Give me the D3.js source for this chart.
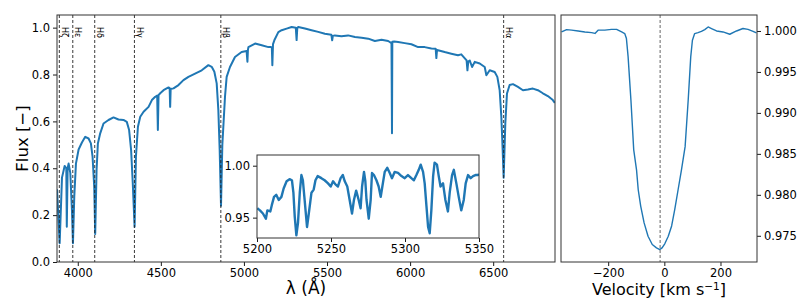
<!DOCTYPE html>
<html>
<head>
<meta charset="utf-8">
<script src="https://cdn.jsdelivr.net/npm/d3@7"></script>
<style>
  body { margin: 0; background: #fff; }
  svg text { font-family: "DejaVu Sans", sans-serif; fill: #000; }
  .axis text { font-size: 11.5px; }
  .axis line { stroke: #000; stroke-width: 0.9; }
  .axis path { display: none; }
  .frame { fill: none; stroke: #333; stroke-width: 1; }
  .spec { fill: none; stroke: #1f77b4; stroke-linejoin: round; }
</style>
</head>
<body>
<div id="chart"></div>
<script>
// Full spectrum, wavelength (Angstrom) and normalised flux
const specWave = [3875, 3891, 3905, 3921, 3931, 3934, 3939, 3945, 3955, 3965, 3971, 3979, 3989, 4005, 4025,
  4045, 4065, 4079, 4089, 4099, 4105, 4113, 4121, 4135, 4155, 4185, 4215, 4245, 4275, 4295,
  4309, 4321, 4331, 4342, 4350, 4362, 4376, 4396, 4426, 4446, 4466, 4478, 4482, 4486, 4496, 4516,
  4546, 4553, 4556, 4559, 4576, 4606, 4636, 4666, 4706, 4746, 4786, 4806, 4822, 4836, 4846,
  4854, 4862, 4870, 4886, 4896, 4916, 4946, 4986, 5016, 5021, 5024, 5027, 5067, 5107, 5147, 5163,
  5168, 5171, 5175, 5183, 5207, 5227, 5257, 5287, 5312, 5317, 5321, 5327, 5367, 5407, 5447, 5487,
  5526, 5531, 5535, 5547, 5587, 5627, 5668, 5708, 5748, 5788, 5828, 5868, 5888, 5891, 5893,
  5904, 5928, 5968, 6008, 6048, 6088, 6128, 6154, 6158, 6162, 6208, 6248, 6288, 6308, 6340,
  6345, 6350, 6359, 6373, 6389, 6419, 6449, 6459, 6479, 6509, 6525, 6539, 6549, 6557, 6563,
  6573, 6583, 6599, 6619, 6649, 6679, 6709, 6739, 6769, 6799, 6829, 6859, 6871]
const specFlux = [0.31, 0.08, 0.36, 0.41, 0.40, 0.15, 0.40, 0.42, 0.38, 0.22, 0.08, 0.28, 0.42, 0.48, 0.51,
  0.534, 0.527, 0.506, 0.45, 0.32, 0.12, 0.39, 0.506, 0.549, 0.591, 0.606, 0.617, 0.608, 0.606, 0.598,
  0.563, 0.478, 0.336, 0.15, 0.449, 0.577, 0.62, 0.641, 0.662, 0.691, 0.705, 0.71, 0.563, 0.712, 0.72, 0.733,
  0.745, 0.742, 0.662, 0.738, 0.741, 0.755, 0.776, 0.79, 0.804, 0.818, 0.84, 0.833, 0.812, 0.762, 0.648,
  0.478, 0.24, 0.5, 0.705, 0.79, 0.832, 0.875, 0.896, 0.9, 0.855, 0.905, 0.917, 0.932, 0.925, 0.917, 0.917,
  0.915, 0.84, 0.93, 0.946, 0.981, 0.989, 0.996, 1.003, 1.0, 0.947, 0.998, 1.003, 0.996, 0.989, 0.982, 0.974,
  0.97, 0.946, 0.965, 0.967, 0.963, 0.967, 0.96, 0.957, 0.953, 0.943, 0.948, 0.943, 0.934, 0.549, 0.94,
  0.941, 0.939, 0.934, 0.929, 0.917, 0.917, 0.911, 0.91, 0.87, 0.905, 0.896, 0.889, 0.882, 0.886, 0.86,
  0.818, 0.855, 0.86, 0.832, 0.854, 0.847, 0.832, 0.797, 0.818, 0.811, 0.79, 0.733, 0.62, 0.478, 0.36,
  0.591, 0.719, 0.755, 0.759, 0.747, 0.733, 0.736, 0.74, 0.733, 0.72, 0.708, 0.691, 0.679]

// Zoomed region 5200-5350 A
const insetWave = [5200.2, 5202, 5204, 5206, 5207, 5209, 5210, 5211.5, 5213, 5214.7, 5216.5, 5218, 5220,
  5222, 5223.6, 5224.6, 5225.5, 5226.6, 5227.7, 5228.9, 5230, 5231, 5232, 5233.8, 5235, 5236.8,
  5238.3, 5239.5, 5241, 5243.5, 5245.7, 5248, 5249.8, 5251.4, 5253, 5254.7, 5256.5, 5258, 5259.3,
  5261, 5262.6, 5264.2, 5265.5, 5267, 5268.7, 5270, 5271, 5272.3, 5273.2, 5274, 5275.5, 5276.8,
  5277.7, 5279, 5280.7, 5282.2, 5283.6, 5284.7, 5286.3, 5288, 5289.7, 5291.2, 5293, 5295.3, 5297.6,
  5299.8, 5302, 5304.3, 5306, 5307.7, 5309.3, 5310.6, 5312.2, 5313.3, 5314.5, 5315.6, 5316.7, 5317.8,
  5319, 5320, 5321.6, 5322.8, 5324, 5325.7, 5327.3, 5329, 5330.2, 5331.8, 5333, 5334.7, 5336.3,
  5338, 5339.7, 5341, 5342.6, 5344.4, 5346, 5347.6, 5349.4, 5350]
const insetFlux = [0.959, 0.957, 0.954, 0.949, 0.957, 0.956, 0.962, 0.970, 0.972, 0.967, 0.970, 0.978, 0.985,
  0.987, 0.986, 0.974, 0.951, 0.933, 0.945, 0.974, 0.991, 0.986, 0.970, 0.941, 0.954, 0.974,
  0.977, 0.986, 0.990, 0.988, 0.986, 0.983, 0.980, 0.985, 0.982, 0.980, 0.988, 0.991, 0.985,
  0.980, 0.967, 0.954, 0.967, 0.976, 0.967, 0.959, 0.980, 0.994, 0.985, 0.967, 0.949, 0.967,
  0.993, 0.991, 0.986, 0.980, 0.970, 0.980, 0.994, 0.998, 0.993, 0.988, 0.994, 0.993, 0.990,
  0.988, 0.991, 0.988, 0.986, 0.991, 0.996, 1.001, 0.994, 0.983, 0.961, 0.941, 0.935, 0.957,
  0.990, 1.003, 1.001, 0.990, 0.980, 0.983, 0.967, 0.956, 0.974, 0.991, 0.996, 0.983, 0.970,
  0.957, 0.967, 0.983, 0.991, 0.988, 0.990, 0.991, 0.991, 0.992]

// Cross-correlation profile
const velocity = [-366, -348, -330, -307, -283, -259, -247, -236, -212, -188, -170, -152, -141, -135,
  -129, -119, -109, -99, -93, -84, -72, -58, -43, -28, -16, -8, 2, 14, 26, 37, 49, 61, 74,
  85, 94, 100, 108, 120, 132, 144, 156, 168, 186, 209, 233, 257, 280, 298, 316, 328]
const ccf = [0.99988, 1.00017, 1.0001, 1.0000, 0.99988, 0.9998, 0.9997, 1.0001, 1.0001, 1.0002, 1.0002,
  0.99988, 0.99968, 0.99907, 0.99684, 0.99157, 0.98549, 0.98305, 0.98062, 0.97859, 0.97657,
  0.97494, 0.97393, 0.97353, 0.97332, 0.97353, 0.97405, 0.97494, 0.9762, 0.97819, 0.98062,
  0.98305, 0.98588, 0.99157, 0.99684, 0.99887, 0.99968, 0.9998, 0.99996, 1.00017, 1.00049,
  1.0003, 1.0000, 0.99988, 0.9996, 1.0000, 1.0003, 1.0002, 0.99996, 0.99976]
const rvCentre = -15

const balmerWave = [3889, 3970, 4102, 4341, 4861, 6563]
const balmerLabels = ['Hζ', 'Hε', 'Hδ', 'Hγ', 'Hβ', 'Hα']

const mainXTicks = [4000, 4500, 5000, 5500, 6000, 6500]
const mainYTicks = [0.0, 0.2, 0.4, 0.6, 0.8, 1.0]
const insetXTicks = [5200, 5250, 5300, 5350]
const insetYTicks = [0.95, 1.00]
const velXTicks = [-200, 0, 200]
const velYTicks = [0.975, 0.980, 0.985, 0.990, 0.995, 1.000]

const width = 806
const height = 302

const svg = d3.select('#chart')
  .append('svg')
  .attr('width', width)
  .attr('height', height)

// Panel boxes
const main = { left: 57, right: 555, top: 15, bottom: 262 }
const inset = { left: 257, right: 479, top: 155, bottom: 238 }
const vel = { left: 561, right: 757, top: 15, bottom: 262 }

// Scales
const x = d3.scaleLinear().domain([3875, 6872]).range([main.left, main.right])
const y = d3.scaleLinear().domain([0, 1.054]).range([main.bottom, main.top])
const xi = d3.scaleLinear().domain([5200, 5350]).range([inset.left, inset.right])
const yi = d3.scaleLinear().domain([0.9304, 1.0103]).range([inset.bottom, inset.top])
const xv = d3.scaleLinear().domain([-368, 330]).range([vel.left, vel.right])
const yv = d3.scaleLinear().domain([0.9718, 1.00195]).range([vel.bottom, vel.top])

const defs = svg.append('defs')
function clip(id, b) {
  defs.append('clipPath').attr('id', id)
    .append('rect')
    .attr('x', b.left).attr('y', b.top)
    .attr('width', b.right - b.left).attr('height', b.bottom - b.top)
}
clip('clip-main', main)
clip('clip-inset', inset)
clip('clip-vel', vel)

// ---- Main spectrum panel ----
const specData = specWave.map((w, i) => ({ w, f: specFlux[i] }))
const specLine = d3.line().x(d => x(d.w)).y(d => y(d.f))

svg.append('path')
  .datum(specData)
  .attr('class', 'spec')
  .attr('clip-path', 'url(#clip-main)')
  .attr('stroke-width', 2)
  .attr('d', specLine)

// Balmer line markers
const balmer = svg.append('g')
balmer.selectAll('line')
  .data(balmerWave)
  .join('line')
  .attr('x1', d => x(d)).attr('x2', d => x(d))
  .attr('y1', main.top).attr('y2', main.bottom)
  .attr('stroke', '#222')
  .attr('stroke-width', 0.9)
  .attr('stroke-dasharray', '3,2')

balmer.selectAll('text')
  .data(balmerWave)
  .join('text')
  .attr('transform', d => `translate(${x(d) + 2.5}, 27) rotate(90)`)
  .attr('font-size', '8px')
  .text((d, i) => balmerLabels[i])

svg.append('g')
  .attr('class', 'axis')
  .attr('transform', `translate(0, ${main.bottom})`)
  .call(d3.axisBottom(x).tickValues(mainXTicks).tickSize(4).tickPadding(3).tickFormat(d3.format('d')))

svg.append('g')
  .attr('class', 'axis')
  .attr('transform', `translate(${main.left}, 0)`)
  .call(d3.axisLeft(y).tickValues(mainYTicks).tickSize(4).tickPadding(3).tickFormat(d3.format('.1f')))

svg.append('rect')
  .attr('class', 'frame')
  .attr('x', main.left).attr('y', main.top)
  .attr('width', main.right - main.left).attr('height', main.bottom - main.top)

// ---- Inset ----
svg.append('rect')
  .attr('x', inset.left).attr('y', inset.top)
  .attr('width', inset.right - inset.left).attr('height', inset.bottom - inset.top)
  .attr('fill', '#fff')

const insetData = insetWave.map((w, i) => ({ w, f: insetFlux[i] }))
svg.append('path')
  .datum(insetData)
  .attr('class', 'spec')
  .attr('clip-path', 'url(#clip-inset)')
  .attr('stroke-width', 2.4)
  .attr('d', d3.line().x(d => xi(d.w)).y(d => yi(d.f)))

svg.append('g')
  .attr('class', 'axis')
  .attr('transform', `translate(0, ${inset.bottom})`)
  .call(d3.axisBottom(xi).tickValues(insetXTicks).tickSize(4).tickPadding(3).tickFormat(d3.format('d')))

svg.append('g')
  .attr('class', 'axis')
  .attr('transform', `translate(${inset.left}, 0)`)
  .call(d3.axisLeft(yi).tickValues(insetYTicks).tickSize(4).tickPadding(3).tickFormat(d3.format('.2f')))

svg.append('rect')
  .attr('class', 'frame')
  .attr('x', inset.left).attr('y', inset.top)
  .attr('width', inset.right - inset.left).attr('height', inset.bottom - inset.top)

// ---- Velocity panel ----
svg.append('line')
  .attr('x1', xv(rvCentre)).attr('x2', xv(rvCentre))
  .attr('y1', vel.top).attr('y2', vel.bottom)
  .attr('stroke', '#555')
  .attr('stroke-width', 0.9)
  .attr('stroke-dasharray', '3,2')

const ccfData = velocity.map((v, i) => ({ v, f: ccf[i] }))
svg.append('path')
  .datum(ccfData)
  .attr('class', 'spec')
  .attr('clip-path', 'url(#clip-vel)')
  .attr('stroke-width', 1.4)
  .attr('d', d3.line().x(d => xv(d.v)).y(d => yv(d.f)))

svg.append('g')
  .attr('class', 'axis')
  .attr('transform', `translate(0, ${vel.bottom})`)
  .call(d3.axisBottom(xv).tickValues(velXTicks).tickSize(4).tickPadding(3)
    .tickFormat(d => d < 0 ? '\u2212' + Math.abs(d) : d))

svg.append('g')
  .attr('class', 'axis')
  .attr('transform', `translate(${vel.right}, 0)`)
  .call(d3.axisRight(yv).tickValues(velYTicks).tickSize(4).tickPadding(3).tickFormat(d3.format('.3f')))

svg.append('rect')
  .attr('class', 'frame')
  .attr('x', vel.left).attr('y', vel.top)
  .attr('width', vel.right - vel.left).attr('height', vel.bottom - vel.top)

// Axis labels
svg.append('text')
  .attr('transform', `translate(28, ${(main.top + main.bottom) / 2}) rotate(-90)`)
  .attr('text-anchor', 'middle')
  .attr('font-size', '16.5px')
  .text('Flux [\u2212]')

svg.append('text')
  .attr('x', (main.left + main.right) / 2)
  .attr('y', 294)
  .attr('text-anchor', 'middle')
  .attr('font-size', '17px')
  .text('λ (Å)')

const vlab = svg.append('text')
  .attr('x', (vel.left + vel.right) / 2)
  .attr('y', 295)
  .attr('text-anchor', 'middle')
  .attr('font-size', '16px')
vlab.append('tspan').text('Velocity [km s')
vlab.append('tspan').attr('dy', -5).attr('font-size', '10.5px').text('\u22121')
vlab.append('tspan').attr('dy', 5).text(']')
</script>
</body>
</html>
